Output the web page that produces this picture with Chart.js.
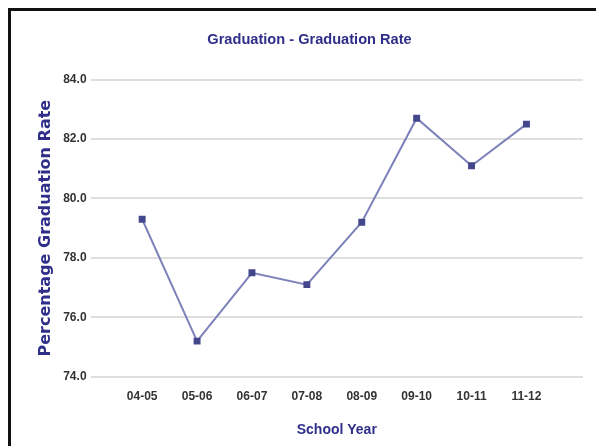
<!DOCTYPE html>
<html>
<head>
<title>Graduation Rate</title>
<script src="https://cdn.jsdelivr.net/npm/chart.js@4"></script>
<style>
    html, body { margin: 0; padding: 0; background: #fff; overflow: hidden; }
    #frame {
        position: absolute; left: 8px; top: 8px;
        width: 700px; height: 600px;
        border-left: 3px solid #111; border-top: 3px solid #111;
    }
    #wrap { position: absolute; left: 11px; top: 11px; width: 585px; height: 435px; }
</style>
</head>
<body>
<div id="frame"></div>
<div id="wrap"><canvas id="chartcanvas"></canvas></div>

<script>
    // values
    const years = ['04-05', '05-06', '06-07', '07-08', '08-09', '09-10', '10-11', '11-12'];
    const rates = [79.3, 75.2, 77.5, 77.1, 79.2, 82.7, 81.1, 82.5];
    const yTicks = [74, 76, 78, 80, 82, 84];

    const navy = '#2f2f8a';
    const tickFont = { family: 'Liberation Sans', size: 12, weight: 'bold' };
    const ctx = document.getElementById('chartcanvas');

    var chart = new Chart(ctx, {
        type: 'line',
        data: {
            datasets: [{
                label: 'Graduation Rate',
                data: rates.map((v, i) => ({ x: i, y: v })),
                borderColor: '#7d82ba',
                borderWidth: 2,
                pointStyle: 'rect',
                pointRadius: 3.5,
                pointBackgroundColor: '#44478c',
                pointBorderColor: '#44478c',
                tension: 0
            }]
        },
        options: {
            responsive: true,
            maintainAspectRatio: false,
            animation: false,
            layout: { padding: { top: 20, right: 13, left: 25, bottom: 7 } },
            plugins: {
                legend: { display: false },
                tooltip: { enabled: false },
                title: {
                    display: true,
                    text: 'Graduation - Graduation Rate',
                    color: navy,
                    font: { family: 'Liberation Sans', size: 14.6, weight: 'bold' },
                    padding: { top: 0, bottom: 31 }
                }
            },
            scales: {
                x: {
                    type: 'linear',
                    min: -0.94,
                    max: 8.03,
                    afterBuildTicks: axis => { axis.ticks = years.map((y, i) => ({ value: i })); },
                    ticks: {
                        callback: v => years[v],
                        color: '#333',
                        font: tickFont,
                        padding: 13,
                        maxRotation: 0
                    },
                    grid: { display: false, drawTicks: false },
                    border: { display: false },
                    title: {
                        display: true,
                        text: 'School Year',
                        color: navy,
                        font: { family: 'Liberation Sans', size: 14, weight: 'bold' },
                        padding: { top: 5, bottom: 0 }
                    }
                },
                y: {
                    min: 74,
                    max: 84,
                    afterBuildTicks: axis => { axis.ticks = yTicks.map(v => ({ value: v })); },
                    ticks: {
                        callback: v => v.toFixed(1),
                        color: '#333',
                        font: tickFont,
                        padding: 4
                    },
                    grid: { color: '#dedede', lineWidth: 2, drawTicks: false },
                    border: { display: false },
                    title: {
                        display: true,
                        text: 'Percentage Graduation Rate',
                        color: navy,
                        font: { family: 'DejaVu Sans', size: 16, weight: 'bold' },
                        padding: { top: 0, bottom: 4 }
                    }
                }
            }
        }
    });
</script>
</body>
</html>
